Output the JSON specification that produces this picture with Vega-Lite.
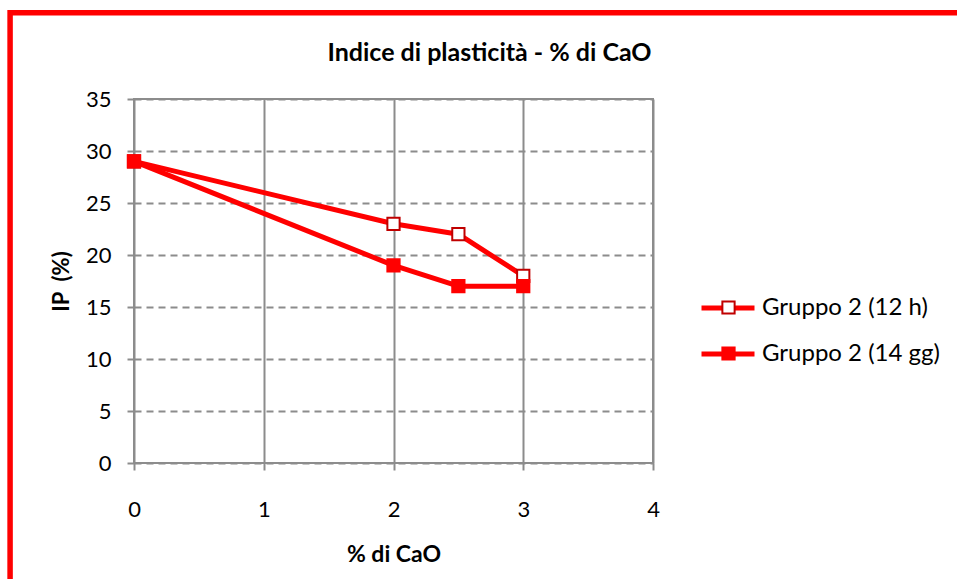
{
  "$schema": "https://vega.github.io/schema/vega-lite/v6.json",
  "width": 519,
  "height": 364,
  "autosize": "none",
  "padding": {"left": 134, "top": 99, "right": 304, "bottom": 116},
  "background": "white",
  "config": {
    "font": "Lato",
    "view": {"stroke": "#8c8c8c", "strokeWidth": 2}
  },
  "title": {
    "text": "Indice di plasticità - % di CaO",
    "font": "Lato",
    "fontSize": 25,
    "fontWeight": "bold",
    "color": "black",
    "anchor": "middle",
    "frame": "group",
    "dx": 96,
    "offset": -56
  },
  "data": {
    "values": [
      {"serie": "Gruppo 2 (12 h)", "cao": 0, "ip": 29},
      {"serie": "Gruppo 2 (12 h)", "cao": 2, "ip": 23},
      {"serie": "Gruppo 2 (12 h)", "cao": 2.5, "ip": 22},
      {"serie": "Gruppo 2 (12 h)", "cao": 3, "ip": 18},
      {"serie": "Gruppo 2 (14 gg)", "cao": 0, "ip": 29},
      {"serie": "Gruppo 2 (14 gg)", "cao": 2, "ip": 19},
      {"serie": "Gruppo 2 (14 gg)", "cao": 2.5, "ip": 17},
      {"serie": "Gruppo 2 (14 gg)", "cao": 3, "ip": 17}
    ]
  },
  "layer": [
    {
      "data": {"values": [{"frame": "bordo"}]},
      "mark": {"type": "rect", "fillOpacity": 0, "stroke": "#ff0000", "strokeWidth": 5.5, "clip": false},
      "encoding": {
        "x": {"datum": -0.955, "type": "quantitative"},
        "x2": {"datum": 6.7},
        "y": {"datum": 43.3, "type": "quantitative"},
        "y2": {"datum": -16}
      }
    },
    {
      "mark": {"type": "line", "strokeWidth": 5, "strokeJoin": "round", "strokeCap": "round"},
      "encoding": {
        "x": {
          "field": "cao",
          "type": "quantitative",
          "scale": {"domain": [0, 4], "nice": false, "zero": false},
          "axis": {
            "values": [0, 1, 2, 3, 4],
            "format": "d",
            "labelFlush": false,
            "title": "% di CaO",
            "titleFont": "Lato",
            "titleFontSize": 23,
            "titleFontWeight": "bold",
            "titleColor": "black",
            "titlePadding": 23,
            "labelFont": "Lato",
            "labelFontSize": 22,
            "labelColor": "black",
            "labelPadding": 29,
            "tickSize": 7,
            "tickColor": "#8c8c8c",
            "tickWidth": 2,
            "domain": false,
            "grid": true,
            "gridColor": "#8c8c8c",
            "gridWidth": 2
          }
        },
        "y": {
          "field": "ip",
          "type": "quantitative",
          "scale": {"domain": [0, 35], "nice": false},
          "axis": {
            "values": [0, 5, 10, 15, 20, 25, 30, 35],
            "format": "d",
            "labelFlush": false,
            "title": "IP\u00a0\u00a0(%)",
            "titleFont": "Lato",
            "titleFontSize": 22,
            "titleFontWeight": "bold",
            "titleColor": "black",
            "titlePadding": 12,
            "labelFont": "Lato",
            "labelFontSize": 22,
            "labelColor": "black",
            "labelPadding": 16,
            "tickSize": 7,
            "tickColor": "#8c8c8c",
            "tickWidth": 2,
            "domain": false,
            "grid": true,
            "gridColor": "#8c8c8c",
            "gridWidth": 2,
            "gridDash": [7, 5]
          }
        },
        "color": {
          "field": "serie",
          "type": "nominal",
          "scale": {"range": ["#ff0000", "#ff0000"]},
          "legend": {
            "title": null,
            "orient": "none",
            "legendX": 565,
            "legendY": 180,
            "padding": 0,
            "symbolType": "stroke",
            "symbolSize": 2809,
            "symbolStrokeWidth": 5,
            "labelFont": "Lato",
            "labelFontSize": 24,
            "labelColor": "black",
            "labelOffset": 5,
            "labelLimit": 300,
            "rowPadding": 5
          }
        }
      }
    },
    {
      "mark": {"type": "point", "shape": "square", "size": 150, "strokeWidth": 2, "opacity": 1, "filled": true},
      "encoding": {
        "x": {"field": "cao", "type": "quantitative"},
        "y": {"field": "ip", "type": "quantitative"},
        "fill": {
          "field": "serie",
          "type": "nominal",
          "scale": {"domain": ["Gruppo 2 (12 h)", "Gruppo 2 (14 gg)"], "range": ["#ffffff", "#ff0000"]},
          "legend": {
            "title": null,
            "orient": "none",
            "legendX": 587,
            "legendY": 201,
            "padding": 0,
            "symbolType": "square",
            "symbolSize": 150,
            "symbolStrokeWidth": 2,
            "symbolOpacity": 1,
            "labelExpr": "''",
            "rowPadding": 25
          }
        },
        "stroke": {
          "field": "serie",
          "type": "nominal",
          "scale": {"domain": ["Gruppo 2 (12 h)", "Gruppo 2 (14 gg)"], "range": ["#c00000", "#ff0000"]},
          "legend": {
            "title": null,
            "orient": "none",
            "legendX": 587,
            "legendY": 201,
            "padding": 0,
            "symbolType": "square",
            "symbolSize": 150,
            "symbolStrokeWidth": 2,
            "symbolOpacity": 1,
            "labelExpr": "''",
            "rowPadding": 25
          }
        }
      }
    }
  ]
}
